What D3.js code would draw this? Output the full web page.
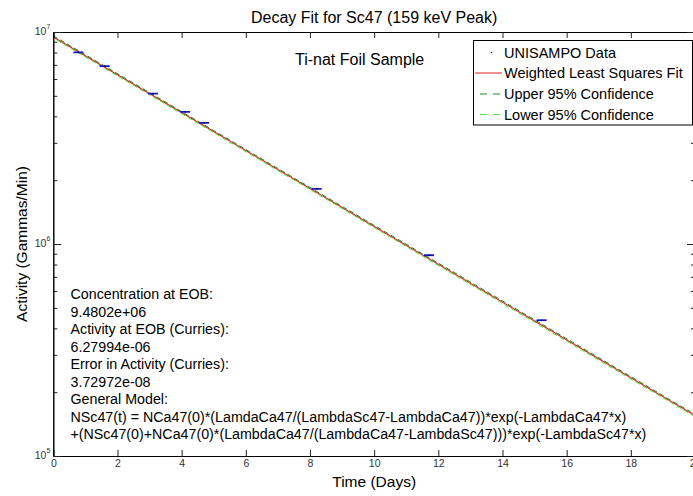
<!DOCTYPE html>
<html>
<head>
<meta charset="utf-8">
<script src="https://cdn.jsdelivr.net/npm/d3@7"></script>
<style>
  html, body { margin: 0; padding: 0; background: #fff; }
  svg { display: block; font-family: "Liberation Sans", Arial, Helvetica, sans-serif; }
</style>
</head>
<body>
<svg id="chart" width="693" height="496"></svg>
<script>
// ---- data ----
const title = "Decay Fit for Sc47 (159 keV Peak)";
const subtitle = "Ti-nat Foil Sample";
const xLabel = "Time (Days)";
const yLabel = "Activity (Gammas/Min)";

const xTicks = [0, 2, 4, 6, 8, 10, 12, 14, 16, 18, 20];
const yMajorExps = [5, 6, 7];

// UNISAMPO measured data points (days, gammas/min)
const dataDays   = [0.78, 1.60, 3.11, 4.11, 4.70, 8.21, 11.71, 15.22];
const dataValues = [8.02e6, 6.91e6, 5.12e6, 4.20e6, 3.73e6, 1.82e6, 8.85e5, 4.37e5];

// Weighted least squares fit curve (days, gammas/min)
const fitDays   = [0, 5, 10, 15, 20];
const fitValues = [9.48e6, 3.39e6, 1.21e6, 4.33e5, 1.55e5];
// 95% confidence bounds
const upperValues = [9.60e6, 3.43e6, 1.225e6, 4.39e5, 1.57e5];
const lowerValues = [9.36e6, 3.35e6, 1.195e6, 4.27e5, 1.53e5];

const legendLabels = ["UNISAMPO Data", "Weighted Least Squares Fit", "Upper 95% Confidence", "Lower 95% Confidence"];

const annotationLines = [
  "Concentration at EOB:",
  "9.4802e+06",
  "Activity at EOB (Curries):",
  "6.27994e-06",
  "Error in Activity (Curries):",
  "3.72972e-08",
  "General Model:",
  "NSc47(t) = NCa47(0)*(LamdaCa47/(LambdaSc47-LambdaCa47))*exp(-LambdaCa47*x)",
  "+(NSc47(0)+NCa47(0)*(LambdaCa47/(LambdaCa47-LambdaSc47)))*exp(-LambdaSc47*x)"
];

// ---- layout ----
const L = 53.3, R = 695, T = 32, B = 456;
const svg = d3.select("#chart");

const x = d3.scaleLinear().domain([0, 20]).range([L, R]);
const y = d3.scaleLog().domain([1e5, 1e7]).range([B, T]);

const clipId = "plotclip";
svg.append("defs").append("clipPath").attr("id", clipId)
  .append("rect").attr("x", L).attr("y", T).attr("width", R - L).attr("height", B - T);

// ---- lines ----
const plot = svg.append("g").attr("clip-path", `url(#${clipId})`);
const mk = vals => fitDays.map((d, i) => [d, vals[i]]);
const line = d3.line().x(d => x(d[0])).y(d => y(d[1]));

plot.append("path").datum(mk(fitValues)).attr("d", line)
  .attr("fill", "none").attr("stroke", "#e02020").attr("stroke-width", 1.1);
plot.append("path").datum(mk(upperValues)).attr("d", line)
  .attr("fill", "none").attr("stroke", "#1a8c1a").attr("stroke-width", 1).attr("stroke-dasharray", "5,3");
plot.append("path").datum(mk(lowerValues)).attr("d", line)
  .attr("fill", "none").attr("stroke", "#44ee44").attr("stroke-width", 1).attr("stroke-dasharray", "5,3")
  .attr("stroke-dashoffset", 4);

// ---- data markers ----
const pts = dataDays.map((d, i) => [d, dataValues[i]]);
plot.selectAll("line.err").data(pts).enter().append("line").attr("class", "err")
  .attr("x1", d => x(d[0]) - 5).attr("x2", d => x(d[0]) + 5)
  .attr("y1", d => y(d[1])).attr("y2", d => y(d[1]))
  .attr("stroke", "#1515d0").attr("stroke-width", 1.8);
plot.selectAll("circle.pt").data(pts).enter().append("circle").attr("class", "pt")
  .attr("cx", d => x(d[0])).attr("cy", d => y(d[1])).attr("r", 0.8).attr("fill", "#000");

// ---- axes ----
const tickColor = "#222";
const labelColor = "#333";

const gBottom = svg.append("g").attr("transform", `translate(0,${B})`)
  .call(d3.axisBottom(x).tickValues(xTicks).tickSize(-6).tickPadding(4).tickFormat(d3.format("d")));
const gTop = svg.append("g").attr("transform", `translate(0,${T})`)
  .call(d3.axisTop(x).tickValues(xTicks).tickSize(-6).tickFormat(""));

const minorVals = [];
for (const e of [5, 6]) for (let m = 2; m <= 9; m++) minorVals.push(m * Math.pow(10, e));
const majorVals = yMajorExps.map(e => Math.pow(10, e));

const gLeftMinor = svg.append("g").attr("transform", `translate(${L},0)`)
  .call(d3.axisLeft(y).tickValues(minorVals).tickSize(-4).tickFormat(""));
const gLeftMajor = svg.append("g").attr("transform", `translate(${L},0)`)
  .call(d3.axisLeft(y).tickValues(majorVals).tickSize(-8).tickFormat(""));
const gRightMinor = svg.append("g").attr("transform", `translate(${R},0)`)
  .call(d3.axisRight(y).tickValues(minorVals).tickSize(-4).tickFormat(""));
const gRightMajor = svg.append("g").attr("transform", `translate(${R},0)`)
  .call(d3.axisRight(y).tickValues(majorVals).tickSize(-8).tickFormat(""));

[gBottom, gTop, gLeftMinor, gLeftMajor, gRightMinor, gRightMajor].forEach(g => {
  g.select(".domain").attr("stroke", "#000").attr("stroke-width", 1);
  g.selectAll(".tick line").attr("stroke", tickColor).attr("stroke-width", 1);
});
gBottom.selectAll(".tick text").attr("fill", labelColor).attr("font-size", 10.5)
  .attr("font-family", "'Liberation Sans Narrow', 'Liberation Sans', Arial, sans-serif");

// y tick labels 10^n
const yl = svg.append("g").selectAll("text").data(yMajorExps).enter().append("text")
  .attr("x", L - 3).attr("y", d => y(Math.pow(10, d)) + 3)
  .attr("text-anchor", "end").attr("fill", labelColor).attr("font-size", 10.5)
  .attr("font-family", "'Liberation Sans Narrow', 'Liberation Sans', Arial, sans-serif");
yl.append("tspan").text("10");
yl.append("tspan").attr("dy", -6).attr("font-size", 7).text(d => d);

// ---- titles ----
svg.append("text").attr("x", (L + R) / 2).attr("y", 22.5).attr("text-anchor", "middle")
  .attr("font-size", 16).attr("fill", "#000").text(title);
svg.append("text").attr("x", (L + R) / 2).attr("y", 487).attr("text-anchor", "middle")
  .attr("font-size", 15.5).attr("fill", "#000").text(xLabel);
svg.append("text").attr("transform", `translate(27,${(T + B) / 2}) rotate(-90)`)
  .attr("text-anchor", "middle").attr("font-size", 15.5).attr("fill", "#000").text(yLabel);

svg.append("text").attr("x", 295).attr("y", 64.5).attr("font-size", 16).attr("fill", "#000").text(subtitle);

// ---- annotation block ----
svg.append("g").selectAll("text").data(annotationLines).enter().append("text")
  .attr("x", 70.5).attr("y", (d, i) => 299 + i * 17.5)
  .attr("font-size", 14.25).attr("fill", "#000").text(d => d);

// ---- legend ----
const lg = svg.append("g");
lg.append("rect").attr("x", 473.5).attr("y", 40.5).attr("width", 219).attr("height", 84.5)
  .attr("fill", "#fff").attr("stroke", "#000").attr("stroke-width", 1);
const rowY = [52.5, 73, 94, 114.5];
lg.append("circle").attr("cx", 491.5).attr("cy", rowY[0]).attr("r", 0.8).attr("fill", "#000");
lg.append("line").attr("x1", 475).attr("x2", 502).attr("y1", rowY[1]).attr("y2", rowY[1])
  .attr("stroke", "#e02020").attr("stroke-width", 1);
lg.append("line").attr("x1", 480).attr("x2", 501).attr("y1", rowY[2]).attr("y2", rowY[2])
  .attr("stroke", "#1a8c1a").attr("stroke-width", 1).attr("stroke-dasharray", "7,6");
lg.append("line").attr("x1", 480).attr("x2", 501).attr("y1", rowY[3]).attr("y2", rowY[3])
  .attr("stroke", "#44ee44").attr("stroke-width", 1).attr("stroke-dasharray", "7,6");
lg.selectAll("text.lt").data(legendLabels).enter().append("text").attr("class", "lt")
  .attr("x", 504).attr("y", (d, i) => rowY[i] + 5).attr("font-size", 14.5).attr("fill", "#000").text(d => d);
</script>
</body>
</html>
